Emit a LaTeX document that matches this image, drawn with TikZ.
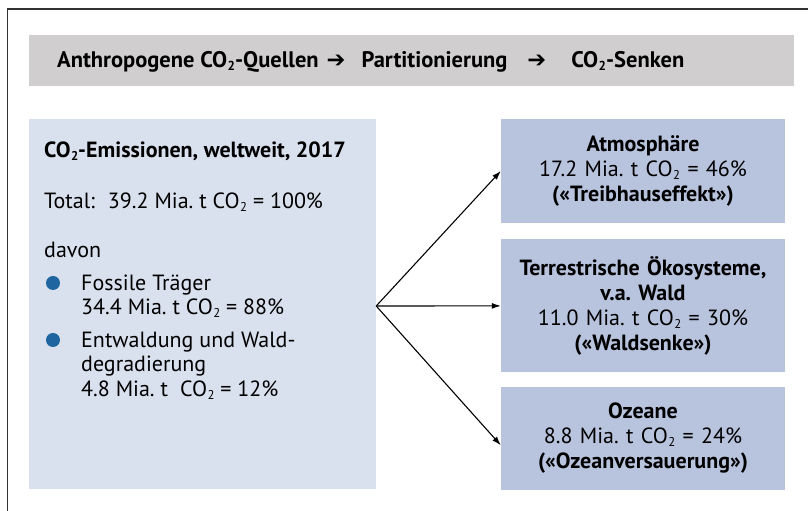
\documentclass[tikz,border=0pt]{standalone}
\usepackage{fontspec}
\usepackage{graphicx}
\setmainfont{PT Sans}
\newfontfamily\pfeilfont{DejaVu Sans}
\usetikzlibrary{calc,positioning,arrows.meta}

\definecolor{bandgrau}{HTML}{D0CECE}
\definecolor{quellblau}{HTML}{DAE1EE}
\definecolor{senkblau}{HTML}{B8C3DD}
\definecolor{punktblau}{HTML}{1F65A0}
\definecolor{rahmengrau}{HTML}{333333}

\newcommand{\cozwei}{CO\kern0.5pt\raisebox{-0.12em}{\scalebox{0.58}{2}}}
\newcommand{\pfeilzeichen}{{\pfeilfont\bfseries ➔}}
\frenchspacing

\begin{document}
\begin{tikzpicture}[x=1pt,y=1pt,
  band/.style={fill=bandgrau,minimum width=765pt,minimum height=51pt,inner sep=0pt},
  quelle/.style={fill=quellblau,minimum width=347pt,minimum height=370pt,inner sep=0pt},
  senke/.style={fill=senkblau,minimum width=284pt,inner sep=0pt,text width=280pt,align=center,
    font=\fontsize{22}{25}\selectfont},
  zeile/.style={anchor=base west,inner sep=0pt,font=\fontsize{22}{24}\selectfont},
  punkt/.style={circle,fill=punktblau,minimum size=14pt,inner sep=0pt},
  fluss/.style={-{Latex[length=9pt,width=6pt]},line width=1.1pt}
  ]

  \useasboundingbox (0,0) rectangle (808,511);
  \draw[rahmengrau,line width=1.6pt] (7.5,0) -- (7.5,502) -- (808,502);

  % Kopfzeile
  \node[band] (band) at (411.5,450.5) {};
  \node[zeile,font=\fontsize{22.5}{24}\selectfont\bfseries] (kopf) at (57,443)
    {Anthropogene \cozwei-Quellen\hspace{8pt}\pfeilzeichen\hspace{16pt}Partitionierung\hspace{20pt}\pfeilzeichen\hspace{25pt}\cozwei-Senken};

  % Quelle
  \node[quelle] (quelle) at (202.5,207) {};
  \node[zeile] (titel) at (44,353) {\textbf{\cozwei-Emissionen, weltweit, 2017}};
  \node[zeile] (total) at (44,302) {Total:\hspace{13pt}39.2 Mia. t \cozwei{} = 100\%};
  \node[zeile] (davon) at (44,253) {davon};
  \node[punkt] (p1) at (53,228) {};
  \node[zeile] (fossil) at (81,220) {Fossile Träger};
  \node[zeile] (fossilwert) at (81,196) {34.4 Mia. t \cozwei{} = 88\%};
  \node[punkt] (p2) at (53,171) {};
  \node[zeile] (wald) at (81,163) {Entwaldung und Wald-};
  \node[zeile] (wald2) at (81,139) {degradierung};
  \node[zeile] (waldwert) at (81,114) {4.8 Mia. t\hspace{12pt}\cozwei{} = 12\%};

  % Senken
  \node[senke,minimum height=104pt] (atmo) at (643,340)
    {\textbf{Atmosphäre}\\17.2 Mia. t \cozwei{} = 46\%\\\textbf{(«Treibhauseffekt»)}};
  \node[senke,minimum height=133pt,below=16pt of atmo] (land)
    {\textbf{Terrestrische Ökosysteme,}\\\textbf{v.a. Wald}\\11.0 Mia. t \cozwei{} = 30\%\\\textbf{(«Waldsenke»)}};
  \node[senke,minimum height=103pt,below=14pt of land] (ozean)
    {\textbf{Ozeane}\\8.8 Mia. t \cozwei{} = 24\%\\\textbf{(«Ozeanversauerung»)}};

  \coordinate (gabel) at ($(quelle.east)+(0,-2)$);
  \draw[fluss] (gabel) -- (atmo.west);
  \draw[fluss] (gabel) -- (land.west);
  \draw[fluss] (gabel) -- ($(ozean.west)+(0,-7)$);

\end{tikzpicture}
\end{document}
